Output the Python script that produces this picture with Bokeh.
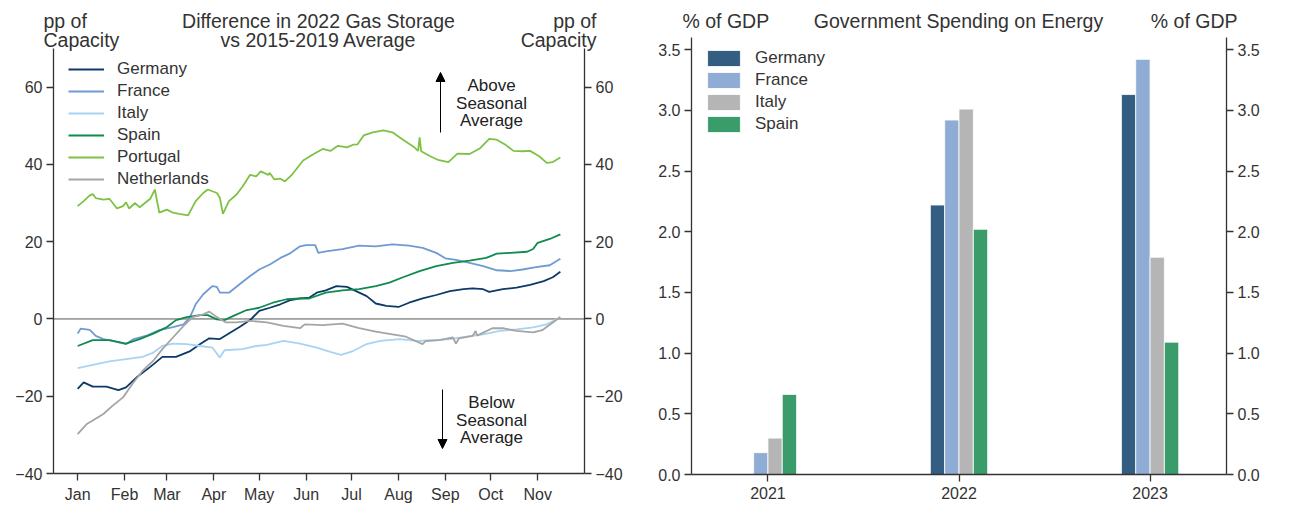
import pandas as pd
from bokeh.plotting import figure
from bokeh.layouts import row
from bokeh.models import (LinearAxis, FixedTicker, DatetimeTickFormatter, Label,
                          Arrow, NormalHead, Legend, LegendItem, Range1d,
                          CustomJSTickFormatter, ColumnDataSource)
from bokeh.transform import dodge
from bokeh.embed import file_html
from bokeh.resources import INLINE

FONT = "Liberation Sans"
TXT = "#333333"

# ---------------- Left chart data (days since 2022-01-01, pp of capacity) -------------
START = "2022-01-01"
germany_days = [0, 4, 10, 19, 27, 32, 39, 48, 56, 65, 74, 81, 87, 94, 101, 107, 114, 120, 127, 134,
                140, 147, 153, 158, 164, 171, 178, 184, 191, 197, 204, 212, 219, 228, 237, 246, 255,
                261, 268, 272, 281, 290, 299, 308, 314, 319]
germany_vals = [-18.1, -16.4, -17.5, -17.5, -18.4, -17.7, -15.1, -12.4, -9.8, -9.8, -8.4, -6.5, -5.0,
                -5.2, -3.5, -2.1, -0.3, 2.1, 2.9, 3.8, 4.8, 5.3, 5.5, 6.8, 7.4, 8.5, 8.3, 7.2, 5.9,
                4.0, 3.4, 3.1, 4.2, 5.3, 6.2, 7.2, 7.7, 7.9, 7.7, 7.0, 7.7, 8.1, 8.8, 9.8, 10.8, 12.2]

france_days = [0, 2, 8, 12, 17, 23, 32, 37, 45, 54, 63, 70, 74, 78, 83, 89, 92, 94, 100, 107, 114,
               120, 127, 134, 140, 147, 151, 157, 159, 164, 175, 186, 197, 208, 219, 228, 237, 243,
               250, 259, 268, 277, 286, 294, 303, 312, 319]
france_vals = [-3.8, -2.5, -2.8, -4.4, -5.2, -5.7, -6.5, -5.2, -4.4, -2.9, -2.1, -1.4, 0.3, 3.8, 6.4,
               8.5, 8.3, 6.8, 6.8, 9.0, 11.1, 12.8, 14.1, 15.8, 16.9, 18.8, 19.1, 19.1, 17.1, 17.5,
               18.1, 19.0, 18.8, 19.3, 19.0, 18.4, 17.1, 15.7, 15.3, 14.5, 13.7, 12.6, 12.4, 12.8,
               13.4, 13.9, 15.6]

italy_days = [0, 4, 10, 21, 32, 43, 50, 56, 63, 72, 81, 89, 94, 97, 109, 118, 125, 136, 147, 158,
              167, 174, 182, 191, 200, 213, 224, 235, 246, 257, 268, 279, 290, 301, 310, 319]
italy_vals = [-12.7, -12.4, -11.9, -11.0, -10.4, -9.8, -8.7, -7.0, -6.4, -6.5, -7.0, -7.4, -10.0,
              -8.1, -7.8, -7.0, -6.7, -5.7, -6.4, -7.4, -8.5, -9.3, -8.3, -6.5, -5.7, -5.2, -5.7,
              -5.5, -5.2, -4.6, -4.0, -3.1, -2.7, -2.2, -1.4, 0.4]

spain_days = [0, 10, 21, 32, 41, 50, 59, 65, 72, 81, 86, 92, 97, 103, 111, 120, 129, 138, 147, 153,
              164, 175, 186, 197, 206, 215, 226, 237, 248, 259, 270, 277, 286, 297, 301, 304, 312, 319]
spain_vals = [-7.0, -5.5, -5.5, -6.4, -5.2, -3.8, -2.1, -0.3, 0.5, 1.0, 1.0, -0.1, -0.3, 0.8, 2.2,
              2.9, 4.2, 5.1, 5.3, 5.3, 6.8, 7.4, 7.7, 8.5, 9.4, 10.8, 12.4, 13.7, 14.5, 15.1, 15.8,
              16.9, 17.1, 17.4, 18.1, 19.7, 20.7, 21.9]

portugal_days = [0, 4, 8, 10, 12, 17, 21, 26, 30, 32, 34, 38, 41, 48, 51, 54, 59, 63, 67, 73, 78,
                 83, 86, 92, 94, 96, 100, 105, 109, 114, 118, 121, 126, 127, 130, 134, 137, 142,
                 149, 156, 162, 167, 172, 178, 182, 185, 189, 195, 202, 208, 215, 222, 225, 226,
                 227, 233, 238, 245, 251, 259, 266, 272, 277, 283, 288, 294, 299, 305, 310, 314, 319]
portugal_vals = [29.2, 30.5, 32.0, 32.3, 31.3, 30.9, 31.1, 28.6, 29.2, 30.2, 28.6, 30.0, 28.9, 31.1,
                 33.5, 27.5, 28.3, 27.5, 27.2, 26.8, 30.5, 32.6, 33.5, 32.6, 31.4, 27.2, 30.5, 32.2,
                 34.3, 37.3, 36.9, 38.2, 37.3, 37.8, 36.1, 36.3, 35.6, 37.5, 41.0, 42.7, 44.0, 43.5,
                 44.8, 44.4, 45.1, 45.2, 47.5, 48.3, 48.8, 48.3, 46.4, 44.6, 43.5, 47.0, 43.4, 42.1,
                 41.2, 40.6, 42.8, 42.7, 44.2, 46.6, 46.4, 45.0, 43.5, 43.4, 43.5, 42.1, 40.4, 40.6,
                 41.8]

netherlands_days = [0, 6, 10, 17, 23, 30, 37, 43, 50, 56, 63, 70, 76, 83, 87, 92, 98, 105, 114, 125,
                    136, 147, 150, 162, 175, 186, 197, 208, 217, 228, 230, 239, 248, 250, 252, 261,
                    263, 264, 274, 281, 290, 301, 307, 319]
netherlands_vals = [-29.8, -27.2, -26.3, -24.6, -22.5, -20.3, -16.4, -13.4, -10.8, -7.8, -4.8, -1.8,
                    0.5, 1.2, 1.9, 0.5, -0.9, -0.9, -0.5, -0.9, -1.8, -2.4, -1.4, -1.6, -1.2, -2.4,
                    -3.3, -4.0, -4.6, -6.5, -5.7, -5.5, -4.8, -6.4, -5.0, -4.4, -3.1, -4.3, -2.4,
                    -2.4, -3.1, -3.5, -2.9, 0.5]

month_ticks = ["2022-01-01", "2022-02-01", "2022-03-01", "2022-04-01", "2022-05-01", "2022-06-01",
               "2022-07-01", "2022-08-01", "2022-09-01", "2022-10-01", "2022-11-01"]
storage_yticks = [-40, -20, 0, 20, 40, 60]
storage_ylim = (-40, 70)

series = [
    ("Germany", germany_days, germany_vals, "#0c3a68"),
    ("France", france_days, france_vals, "#6f9bd3"),
    ("Italy", italy_days, italy_vals, "#a9d3f3"),
    ("Spain", spain_days, spain_vals, "#0f8b4d"),
    ("Portugal", portugal_days, portugal_vals, "#7dc244"),
    ("Netherlands", netherlands_days, netherlands_vals, "#a5a5a5"),
]

# ---------------- Right chart data (% of GDP) -------------
years = ["2021", "2022", "2023"]
spend_germany = [0.0, 2.22, 3.13]
spend_france = [0.18, 2.92, 3.42]
spend_italy = [0.30, 3.01, 1.79]
spend_spain = [0.66, 2.02, 1.09]
spend_yticks = [0.0, 0.5, 1.0, 1.5, 2.0, 2.5, 3.0, 3.5]
spend_ylim = (0.0, 3.6)
spend_xlim = (-0.4, 2.4)

bar_series = [
    ("Germany", spend_germany, "#335d81"),
    ("France", spend_france, "#8fadd4"),
    ("Italy", spend_italy, "#b5b5b5"),
    ("Spain", spend_spain, "#3a9c6b"),
]


def style_axis(ax, size="16px", standoff=4):
    ax.axis_line_color = TXT
    ax.axis_line_width = 1.3
    ax.major_tick_line_color = TXT
    ax.major_tick_line_width = 1.3
    ax.major_tick_out = 7
    ax.major_tick_in = 0
    ax.minor_tick_line_color = None
    ax.major_label_text_font = FONT
    ax.major_label_text_font_size = size
    ax.major_label_text_color = TXT
    ax.major_label_standoff = standoff


t0 = pd.Timestamp(START)
def to_dates(days):
    return [t0 + pd.Timedelta(days=d) for d in days]

all_days = sum([s[1] for s in series], [])
dmin, dmax = min(all_days), max(all_days)
pad = 0.05 * (dmax - dmin)
x_start = (t0 + pd.Timedelta(days=dmin - pad)).timestamp() * 1000
x_end = (t0 + pd.Timedelta(days=dmax + pad)).timestamp() * 1000

# Each figure's frame fills its whole canvas (so the titles are not clipped);
# the axes are pinned at the data limits with fixed_location and bounds.
H = 506
LW, RW = 640, 649
# spine positions in figure pixels
L_SL, L_SR, L_ST, L_SB = 53, 584, 48, 473
R_SL, R_SR, R_ST, R_SB = 51, 586, 37, 474

l_dpp = (x_end - x_start) / (L_SR - L_SL)
LX0, LX1 = x_start - L_SL * l_dpp, x_end + (LW - L_SR) * l_dpp
l_ypp = (storage_ylim[1] - storage_ylim[0]) / (L_SB - L_ST)
LY0, LY1 = storage_ylim[0] - (H - L_SB) * l_ypp, storage_ylim[1] + L_ST * l_ypp

r_dpp = (spend_xlim[1] - spend_xlim[0]) / (R_SR - R_SL)
RX0, RX1 = spend_xlim[0] - R_SL * r_dpp, spend_xlim[1] + (RW - R_SR) * r_dpp
r_ypp = (spend_ylim[1] - spend_ylim[0]) / (R_SB - R_ST)
RY0, RY1 = spend_ylim[0] - (H - R_SB) * r_ypp, spend_ylim[1] + R_ST * r_ypp

def lx(px):
    return LX0 + px / LW * (LX1 - LX0)
def ly(py):
    return LY1 - py / H * (LY1 - LY0)
def rx(px):
    return RX0 + (px - LW) / RW * (RX1 - RX0)
def ry(py):
    return RY1 - py / H * (RY1 - RY0)

# ---------------- Left figure -------------
p1 = figure(width=LW, height=H, x_axis_type="datetime", output_backend="svg",
            toolbar_location=None, x_range=Range1d(LX0, LX1), y_range=Range1d(LY0, LY1),
            min_border_left=0, min_border_right=0, min_border_top=0, min_border_bottom=0)
p1.outline_line_color = None
p1.grid.visible = False

# zero line
p1.segment(x0=[x_start], y0=[0], x1=[x_end], y1=[0], line_color="#555555", line_width=1)

items = []
for name, d, v, c in series:
    r = p1.line(to_dates(d), v, line_color=c, line_width=1.8)
    items.append(LegendItem(label=name, renderers=[r]))

ytf = CustomJSTickFormatter(code="return tick < 0 ? '\u2212' + Math.abs(tick) : tick.toString();")
la = p1.yaxis[0]
la.ticker = FixedTicker(ticks=storage_yticks)
la.formatter = ytf
la.bounds = storage_ylim
la.fixed_location = x_start
style_axis(la)
ra = LinearAxis(ticker=FixedTicker(ticks=storage_yticks), formatter=ytf, bounds=storage_ylim,
                fixed_location=x_end)
style_axis(ra)
p1.add_layout(ra, "right")

mt = [pd.Timestamp(m).timestamp() * 1000 for m in month_ticks]
xa = p1.xaxis[0]
xa.ticker = FixedTicker(ticks=mt)
xa.formatter = DatetimeTickFormatter(days="%b", months="%b", years="%b", hours="%b")
xa.bounds = (x_start, x_end)
xa.fixed_location = storage_ylim[0]
style_axis(xa, standoff=5)

leg1 = Legend(items=items, location=(68, 317), padding=7, spacing=2,
              glyph_height=20, label_height=20, glyph_width=36, label_standoff=13,
              label_text_font=FONT, label_text_font_size="17px", label_text_color=TXT,
              background_fill_color="white", background_fill_alpha=0.75, border_line_color=None)
p1.add_layout(leg1)

def lab(p, x, y, text, align, size="19.5px", baseline="alphabetic", color=TXT):
    p.add_layout(Label(x=x, y=y, text=text, text_align=align, text_baseline=baseline,
                       text_font=FONT, text_font_size=size, text_color=color))

lab(p1, lx(43), ly(20.5), "pp of", "left")
lab(p1, lx(43), ly(39.5), "Capacity", "left")
lab(p1, lx(318), ly(20.5), "Difference in 2022 Gas Storage", "center")
lab(p1, lx(318), ly(39.5), "vs 2015-2019 Average", "center")
lab(p1, lx(596), ly(20.5), "pp of", "right")
lab(p1, lx(596), ly(39.5), "Capacity", "right")

for txt, py in [("Above", 85), ("Seasonal", 103), ("Average", 120),
                ("Below", 402), ("Seasonal", 420), ("Average", 437)]:
    lab(p1, lx(491), ly(py), txt, "center", size="17px", baseline="middle", color="#222222")

p1.add_layout(Arrow(end=NormalHead(size=9, fill_color="black", line_color="black"),
                    x_start=lx(440), y_start=ly(132), x_end=lx(440), y_end=ly(72),
                    line_color="black", line_width=1))
p1.add_layout(Arrow(end=NormalHead(size=9, fill_color="black", line_color="black"),
                    x_start=lx(442), y_start=ly(389), x_end=lx(442), y_end=ly(448),
                    line_color="black", line_width=1))

# ---------------- Right figure -------------
p2 = figure(width=RW, height=H, output_backend="svg", toolbar_location=None,
            x_range=Range1d(RX0, RX1), y_range=Range1d(RY0, RY1),
            min_border_left=0, min_border_right=0, min_border_top=0, min_border_bottom=0)
p2.outline_line_color = None
p2.grid.visible = False

src = {"x": list(range(len(years)))}
for name, vals, _ in bar_series:
    src[name] = vals
source = ColumnDataSource(src)

bw = 0.075
bitems = []
for i, (name, vals, c) in enumerate(bar_series):
    off = (i - 1.5) * bw
    r = p2.vbar(x=dodge("x", off, range=p2.x_range), top=name, width=bw, source=source,
                fill_color=c, line_color="white", line_width=1, line_alpha=0.8)
    bitems.append(LegendItem(label=name, renderers=[r]))

yf2 = CustomJSTickFormatter(code="return tick.toFixed(1);")
la2 = p2.yaxis[0]
la2.ticker = FixedTicker(ticks=spend_yticks)
la2.formatter = yf2
la2.bounds = spend_ylim
la2.fixed_location = spend_xlim[0]
style_axis(la2)
ra2 = LinearAxis(ticker=FixedTicker(ticks=spend_yticks), formatter=yf2, bounds=spend_ylim,
                 fixed_location=spend_xlim[1])
style_axis(ra2)
p2.add_layout(ra2, "right")

xa2 = p2.xaxis[0]
xa2.ticker = FixedTicker(ticks=list(range(len(years))))
xa2.formatter = CustomJSTickFormatter(args=dict(years=years),
                                      code="return years[Math.round(tick)];")
xa2.bounds = spend_xlim
xa2.fixed_location = spend_ylim[0]
style_axis(xa2, standoff=5)

leg2 = Legend(items=bitems, location=(63, 372), padding=7, spacing=2,
              glyph_height=20, label_height=20, glyph_width=41, label_standoff=11,
              label_text_font=FONT, label_text_font_size="17px", label_text_color=TXT,
              background_fill_color="white", background_fill_alpha=0.75, border_line_color=None)
p2.add_layout(leg2)

lab(p2, rx(682), ry(20.5), "% of GDP", "left")
lab(p2, rx(958), ry(20.5), "Government Spending on Energy", "center")
lab(p2, rx(1237), ry(20.5), "% of GDP", "right")

layout = row(p1, p2)
open("out.html", "w").write(file_html(layout, INLINE))
